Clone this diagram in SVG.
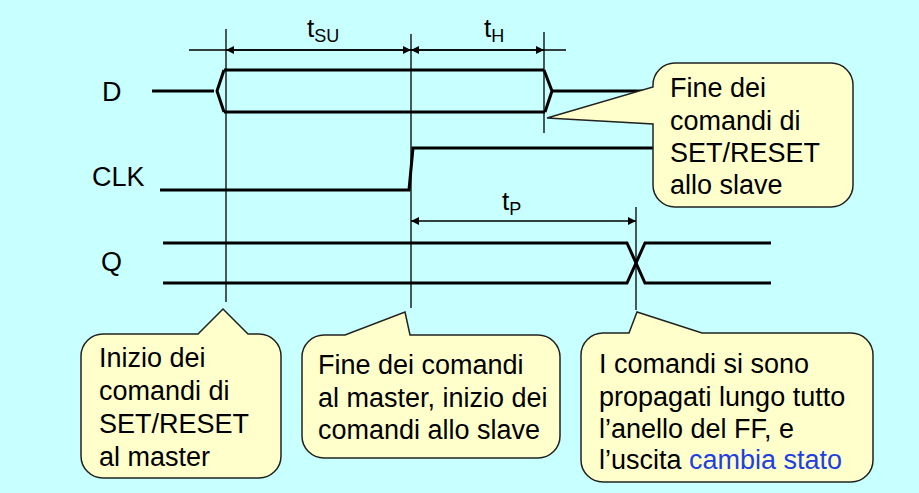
<svg xmlns="http://www.w3.org/2000/svg" width="919" height="493" viewBox="0 0 919 493">
<defs>
<marker id="ah" viewBox="0 0 10 10" refX="10" refY="5" markerWidth="8" markerHeight="8" markerUnits="userSpaceOnUse" orient="auto-start-reverse">
<path d="M0,0 L10,5 L0,10 Z" fill="#000"/>
</marker>
<style>
.bg{fill:#C8FFFF}
.thin{stroke:#000;stroke-width:1.3;fill:none}
.bus{stroke:#000;stroke-width:3;fill:none;stroke-linejoin:miter}
.dim{stroke:#000;stroke-width:1.3;fill:none;marker-start:url(#ah);marker-end:url(#ah)}
.call{fill:#FFFFCC;stroke:#222;stroke-width:1.5}
.t{font-family:"Liberation Sans",Arial,sans-serif;font-size:27px;fill:#000}
.lab{font-family:"Liberation Sans",Arial,sans-serif;font-size:26px;fill:#000}
.sub{font-size:18px}
.blue{fill:#1F3FE0}
</style>
</defs>
<rect class="bg" x="0" y="0" width="919" height="493"/>

<g id="connectors">
<line class="thin" x1="189" y1="50" x2="566" y2="50"/>
<line class="thin" x1="226" y1="29" x2="226" y2="302"/>
<line class="thin" x1="411" y1="34" x2="411" y2="308"/>
<line class="thin" x1="544" y1="32" x2="544" y2="133"/>
<line class="thin" x1="636" y1="207" x2="636" y2="310"/>
<line class="dim" x1="226" y1="50" x2="411" y2="50"/>
<line class="dim" x1="411" y1="50" x2="544" y2="50"/>
<line class="dim" x1="411" y1="221" x2="636" y2="221"/>
</g>

<g id="signal-D">
<line class="bus" x1="152" y1="91" x2="214" y2="91"/>
<path class="bus" d="M224,70 L544,70 M224,112 L545,112 M224,70 L217,91 L224,112 M544,70 L552,91 L545,112"/>
<line class="bus" x1="553" y1="91" x2="660" y2="91"/>
<text class="t" x="102" y="101">D</text>
</g>

<g id="signal-CLK">
<polyline class="bus" points="160,190 409,190 413,148 660,148"/>
<text class="t" x="92" y="186">CLK</text>
</g>

<g id="signal-Q">
<polyline class="bus" points="163,243 627,243 645,283 771,283"/>
<polyline class="bus" points="163,283 627,283 645,243 771,243"/>
<text class="t" x="101" y="271">Q</text>
</g>

<g id="label-tSU">
<text class="lab" x="307" y="37">t<tspan class="sub" dy="5">SU</tspan></text>
</g>
<g id="label-tH">
<text class="lab" x="484" y="37">t<tspan class="sub" dy="5">H</tspan></text>
</g>
<g id="label-tP">
<text class="lab" x="502" y="210">t<tspan class="sub" dy="5">P</tspan></text>
</g>

<g id="callout-slave">
<path class="call" d="M675,63 L831,63 A22,22 0 0 1 853,85 L853,185 A22,22 0 0 1 831,207 L675,207 A22,22 0 0 1 653,185 L653,124 L547,118 L653,87 L653,85 A22,22 0 0 1 675,63 Z"/>
<text class="t" x="670" y="97">Fine dei</text>
<text class="t" x="670" y="129.5">comandi di</text>
<text class="t" x="670" y="162">SET/RESET</text>
<text class="t" x="670" y="194">allo slave</text>
</g>

<g id="callout-inizio">
<path class="call" d="M103,334 L198,334 L223,309 L248,334 L259,334 A22,22 0 0 1 281,356 L281,456 A22,22 0 0 1 259,478 L103,478 A22,22 0 0 1 81,456 L81,356 A22,22 0 0 1 103,334 Z"/>
<text class="t" x="99" y="367">Inizio dei</text>
<text class="t" x="99" y="400">comandi di</text>
<text class="t" x="99" y="433">SET/RESET</text>
<text class="t" x="99" y="466">al master</text>
</g>

<g id="callout-fine">
<path class="call" d="M324,335 L345,335 L405,312 L410,335 L538,335 A22,22 0 0 1 560,357 L560,436 A22,22 0 0 1 538,458 L324,458 A22,22 0 0 1 302,436 L302,357 A22,22 0 0 1 324,335 Z"/>
<text class="t" x="318" y="374">Fine dei comandi</text>
<text class="t" x="318" y="406.5">al master, inizio dei</text>
<text class="t" x="318" y="438.5">comandi allo slave</text>
</g>

<g id="callout-propagati">
<path class="call" d="M603,333 L629,333 L637,312 L702,333 L851,333 A22,22 0 0 1 873,355 L873,460 A22,22 0 0 1 851,482 L603,482 A22,22 0 0 1 581,460 L581,355 A22,22 0 0 1 603,333 Z"/>
<text class="t" x="599" y="373">I comandi si sono</text>
<text class="t" x="599" y="405.5">propagati lungo tutto</text>
<text class="t" x="599" y="438">l’anello del FF, e</text>
<text class="t" x="599" y="469">l’uscita <tspan class="blue">cambia stato</tspan></text>
</g>
</svg>
